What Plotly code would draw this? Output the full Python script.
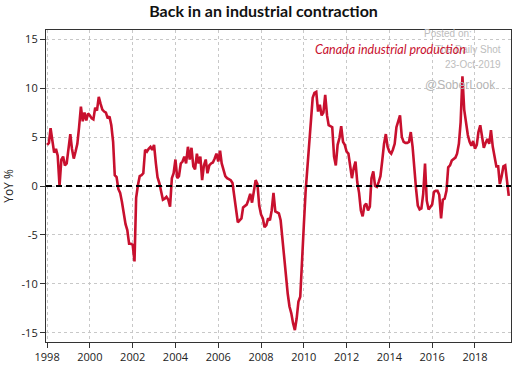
import plotly.graph_objects as go
import pandas as pd

# Monthly YoY % change, Canada industrial production, Jan 1998 onwards
start_month = "1998-01-01"
ip_yoy = [
    4.2, 4.4, 5.9, 4.8, 3.4, 3.8, 3.1, 0.0, 2.7, 3.0, 2.1, 2.3,      # 1998
    3.7, 5.3, 3.8, 2.8, 3.5, 4.3, 6.0, 8.1, 6.6, 7.5, 6.7, 7.4,      # 1999
    7.2, 6.9, 6.8, 8.0, 7.7, 9.1, 8.4, 7.8, 7.6, 7.5, 6.9, 7.1,      # 2000
    6.2, 4.5, 1.1, 0.9, -0.3, -0.7, -1.6, -2.8, -3.9, -4.5, -5.9, -5.9,  # 2001
    -6.0, -7.7, -1.2, 0.1, 1.0, 1.1, 1.3, 3.7, 3.5, 3.8, 4.0, 3.7,   # 2002
    4.2, 2.3, 0.9, 0.3, -0.6, -1.4, -1.3, -1.1, -1.4, -2.1, 0.8, 1.3,  # 2003
    2.7, 0.8, 1.0, 2.3, 2.5, 3.0, 2.3, 4.0, 2.7, 3.9, 2.0, 1.7,      # 2004
    3.3, 2.3, 3.0, 0.6, 2.1, 2.7, 1.3, 2.1, 2.3, 2.4, 2.8, 3.3,      # 2005
    2.5, 3.6, 2.3, 1.5, 1.0, 0.8, 0.7, 0.6, 0.3, -1.1, -2.4, -3.7,   # 2006
    -3.5, -3.3, -2.2, -2.0, -1.9, -1.4, -0.8, -1.7, -0.3, 0.6, 0.2, -2.0,  # 2007
    -2.9, -3.3, -4.2, -4.0, -3.3, -3.5, -2.5, -0.7, -2.6, -2.7, -2.8, -3.5,  # 2008
    -5.5, -7.3, -8.6, -11.0, -12.3, -13.0, -14.0, -14.7, -13.5, -11.8, -11.3, -7.0,  # 2009
    -4.0, -0.5, 1.8, 4.3, 6.5, 9.0, 9.5, 9.6, 7.6, 8.3, 7.2, 7.5,    # 2010
    9.3, 7.2, 6.2, 6.1, 6.0, 3.0, 2.1, 4.2, 4.9, 6.1, 4.5, 4.2,      # 2011
    3.5, 3.3, 2.0, 0.8, 1.8, 2.5, 0.4, -0.7, -2.5, -3.1, -2.0, -1.8,  # 2012
    -2.5, -2.1, 0.8, 1.5, 0.0, -0.1, 0.4, 1.0, 2.6, 4.3, 5.3, 4.0,   # 2013
    3.5, 3.3, 3.7, 4.3, 6.0, 6.5, 7.2, 5.0, 4.5, 4.4, 4.4, 4.5,      # 2014
    5.5, 4.0, 1.5, -0.3, -2.0, -2.4, -2.3, -0.8, 2.3, -1.5, -2.4, -2.2,  # 2015
    -1.9, -0.6, -0.5, -0.5, -0.9, -3.3, -1.4, -1.3, -0.5, 1.9, 2.1, 2.6,  # 2016
    2.8, 2.9, 3.3, 4.3, 6.5, 11.2, 7.8, 6.4, 5.2, 4.5, 4.1, 4.6,     # 2017
    3.8, 4.2, 5.5, 6.2, 5.0, 3.9, 4.4, 4.8, 4.3, 5.7, 4.0, 3.0,      # 2018
    2.0, 2.0, 0.2, 1.0, 2.0, 2.1, 0.6, -1.0,                          # 2019
]
dates = pd.date_range(start_month, periods=len(ip_yoy), freq="MS")

year_ticks = [f"{y}-01-01" for y in range(1998, 2019, 2)]
year_labels = [str(y) for y in range(1998, 2019, 2)]
y_ticks = [15, 10, 5, 0, -5, -10, -15]
y_labels = ["15", "10", "5", "0", "-5", "-10", "-15"]

series_name = "Canada industrial production"
title_text = "Back in an industrial contraction"
red = "#C8102E"

fig = go.Figure()
fig.add_trace(go.Scatter(x=dates, y=ip_yoy, mode="lines", name=series_name,
                         line=dict(color=red, width=2.6), showlegend=False))

fig.add_shape(type="line", xref="paper", x0=0, x1=1, yref="y", y0=0, y1=0,
              line=dict(color="black", width=2, dash="6px,4px"), layer="above")

axis_common = dict(showline=True, linecolor="#333", linewidth=1.2, mirror=True,
                   ticks="outside", ticklen=5, tickcolor="#333", automargin=False,
                   showgrid=True, gridcolor="#c8c8c8", gridwidth=1, griddash="3px,3px",
                   zeroline=False,
                   tickfont=dict(family="Open Sans, Noto Sans, sans-serif", size=11, color="#222"))

fig.update_xaxes(type="date", range=["1997-12-13", "2019-09-08"],
                 tickvals=year_ticks, ticktext=year_labels, **axis_common)
fig.update_yaxes(range=[-15.92, 15.92], tickvals=y_ticks, ticktext=y_labels,
                 title=dict(text="YoY %", standoff=6,
                            font=dict(family="Open Sans, Noto Sans, sans-serif", size=12, color="#222")),
                 **axis_common)

wm_font = dict(family="Liberation Sans, Arial, sans-serif", size=10, color="#bdbdbd")
fig.add_annotation(xref="paper", yref="paper", x=0.809, y=0.99, xanchor="left", yanchor="middle",
                   text="Posted on:", showarrow=False, font=wm_font)
fig.add_annotation(xref="paper", yref="paper", x=0.983, y=0.939, xanchor="right", yanchor="middle",
                   text="The Daily Shot", showarrow=False, font=wm_font)
fig.add_annotation(xref="paper", yref="paper", x=0.983, y=0.888, xanchor="right", yanchor="middle",
                   text="23-Oct-2019", showarrow=False, font=wm_font)
fig.add_annotation(xref="paper", yref="paper", x=0.81, y=0.824, xanchor="left", yanchor="middle",
                   text="@SoberLook", showarrow=False,
                   font=dict(family="Liberation Sans, Arial, sans-serif", size=12, color="#b5b5b5"))

fig.add_annotation(xref="paper", yref="paper", x=0.574, y=0.939, xanchor="left", yanchor="middle",
                   text=f"<i>{series_name}</i>", showarrow=False,
                   font=dict(family="Lato, Open Sans, sans-serif", size=12.5, color=red))

fig.update_layout(
    width=527, height=370,
    margin=dict(l=46, r=16, t=30, b=28),
    paper_bgcolor="white", plot_bgcolor="white",
    title=dict(text=f"<b>{title_text}</b>", x=0.5, xanchor="center", y=0.97, yanchor="middle",
               automargin=False,
               font=dict(family="Lato, Open Sans, sans-serif", size=16, color="#111")),
)

fig.write_html("out.html", config={"displayModeBar": False},
               post_script="document.body.style.margin='0';document.body.style.overflow='hidden';")
